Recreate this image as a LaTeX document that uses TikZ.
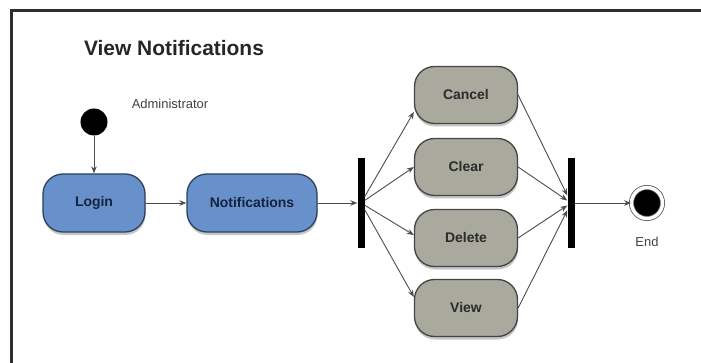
\documentclass[tikz,border=0pt]{standalone}
\usepackage{fontspec}
\setsansfont{Liberation Sans}
\usepackage{tikz}
\usetikzlibrary{arrows.meta,shadows,positioning}

\definecolor{stateblue}{HTML}{6890CB}
\definecolor{blueline}{HTML}{2F4260}
\definecolor{bluetext}{HTML}{15233D}
\definecolor{actgrey}{HTML}{A9A99D}
\definecolor{greyline}{HTML}{444444}
\definecolor{greytext}{HTML}{2B2B2B}

\begin{document}
\begin{tikzpicture}[-,>={Stealth[length=7bp,width=5.5bp]},
    every node/.style={font=\sffamily},
    box/.style={rectangle,rounded corners=20bp,line width=1.3bp,inner sep=2bp,
      minimum height=58bp,font=\sffamily\bfseries\fontsize{14}{16}\selectfont,
      drop shadow={shadow xshift=0.5bp,shadow yshift=-3bp,opacity=0.45}},
    blue node/.style={box,draw=blueline,fill=stateblue,text=bluetext},
    grey node/.style={box,draw=greyline,fill=actgrey,text=greytext,
      minimum width=103bp,minimum height=57bp},
    bar node/.style={rectangle,fill=black,minimum width=7bp,minimum height=90bp,inner sep=0pt},
    start node/.style={circle,fill=black,minimum size=27bp,inner sep=0pt},
    end node/.style={circle,fill=black,minimum size=31bp,inner sep=0pt,draw=gray!70!black,
      line width=0.8bp,double=white,double distance=3.4bp},
    flow/.style={->,draw=black!70,line width=0.9bp}]

  \useasboundingbox (-94bp,-160bp) rectangle (607bp,203bp);
  \draw[line width=3bp,black!82] (-82bp,-160bp) |- (607bp,192bp);

  \node[blue node,minimum width=102bp] (login) {Login};
  \node[blue node,minimum width=130bp] (notif) [right of=login,node distance=158bp] {Notifications};
  \node[start node] (start) [above of=login,node distance=81bp] {};
  \node (admin) [right of=start,node distance=76bp,yshift=18bp,
    font=\sffamily\fontsize{13}{15}\selectfont,text=black!75] {Administrator};
  \node (title) at (80bp,155bp)
    [font=\sffamily\bfseries\fontsize{21}{25}\selectfont,text=black!85] {View Notifications};

  \node[bar node] (fork) [right of=notif,node distance=109bp] {};
  \node[grey node] (clear) [right of=fork,node distance=105bp,yshift=36bp] {Clear};
  \node[grey node] (cancel) [above of=clear,node distance=72bp] {Cancel};
  \node[grey node] (delete) [below of=clear,node distance=71bp] {Delete};
  \node[grey node] (view) [below of=delete,node distance=70bp] {View};
  \node[bar node] (join) [right of=fork,node distance=210bp] {};
  \node[end node] (end) [right of=join,node distance=76bp] {};
  \node (endlabel) [below of=end,node distance=39bp,
    font=\sffamily\fontsize{13}{15}\selectfont,text=black!75] {End};

  \path[every edge/.append style={flow}]
    (start) edge (login)
    (login) edge (notif)
    (notif) edge (fork)
    (fork) edge ([yshift=-17bp]cancel.west)
           edge (clear.west)
           edge ([yshift=3bp]delete.west)
           edge ([yshift=11bp]view.west)
    (join) edge (end);
  \foreach \act in {cancel,clear,delete,view}
    \path (\act.east) edge[flow] (join);
\end{tikzpicture}
\end{document}
